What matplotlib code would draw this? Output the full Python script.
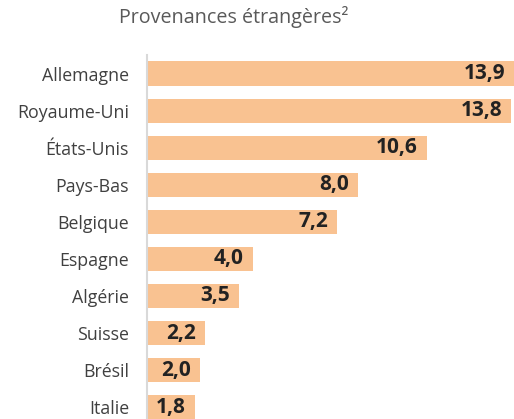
import matplotlib
matplotlib.use("Agg")
import matplotlib.pyplot as plt

pays = ["Allemagne", "Royaume-Uni", "États-Unis", "Pays-Bas", "Belgique",
        "Espagne", "Algérie", "Suisse", "Brésil", "Italie"]
valeurs = [13.9, 13.8, 10.6, 8.0, 7.2, 4.0, 3.5, 2.2, 2.0, 1.8]

plt.rcParams['font.family'] = ['Open Sans', 'DejaVu Sans']

fig = plt.figure(figsize=(5.14, 4.19), dpi=100)
ax = fig.add_axes([147/514, 0, 1 - 147/514, 364/419])

pos = range(len(pays))
ax.barh(pos, valeurs, height=0.65, color='#F9C291', zorder=2)

for i, v in zip(pos, valeurs):
    lab = f"{v:.1f}".replace(".", ",")
    ax.annotate(lab, (v, i), xytext=(-6.5, 0), textcoords='offset points',
                ha='right', va='center', fontsize=15, fontweight='bold',
                color='#222222', zorder=3)

ax.set_xlim(0, 13.9)
ax.set_ylim(9.32, -0.5)
ax.set_yticks(list(pos))
ax.set_yticklabels(pays, fontsize=12.8, color='#404040')
ax.tick_params(axis='y', length=0, pad=13)
ax.set_xticks([])
for s in ['top', 'right', 'bottom']:
    ax.spines[s].set_visible(False)
ax.spines['left'].set_color('#d9d9d9')
ax.spines['left'].set_linewidth(1.5)

fig.text(234/514, 1 - 17/419, "Provenances étrangères²", ha='center', va='center',
         fontsize=14.2, color='#595959')

fig.savefig("out.png", dpi=100)
